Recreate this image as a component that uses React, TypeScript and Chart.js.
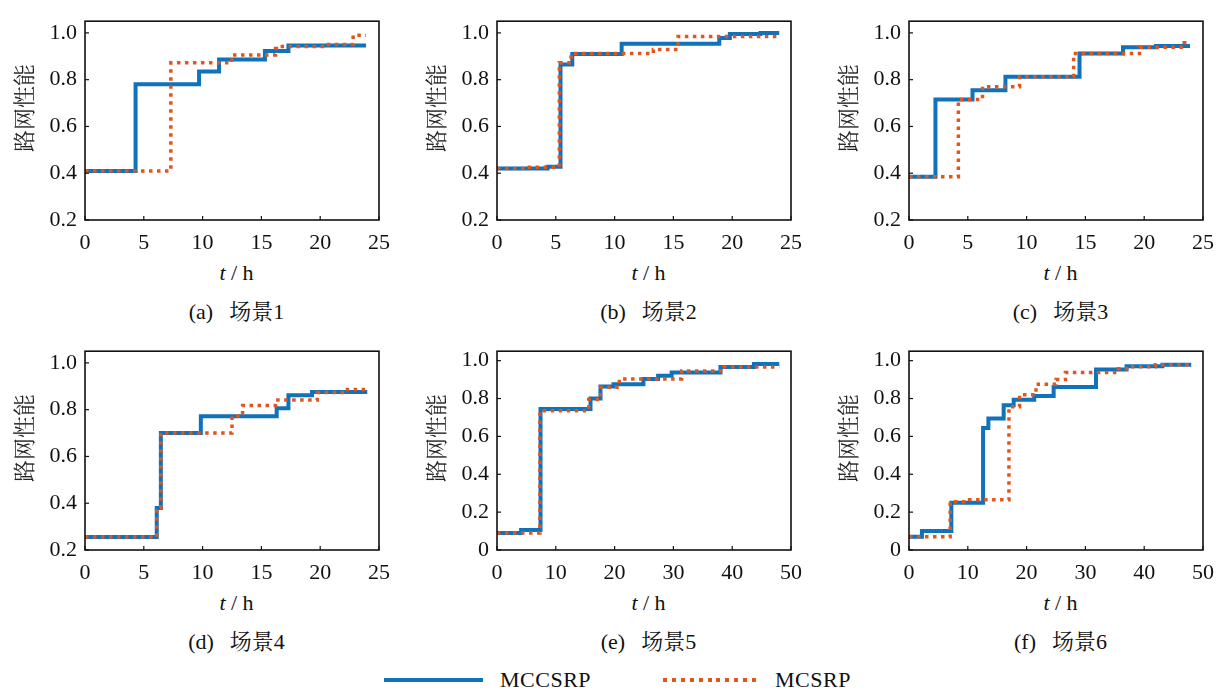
import React, { useEffect, useRef } from "react";
import { Chart, registerables } from "chart.js";

Chart.register(...registerables);

const BLUE = "#0F72BA";
const ORANGE = "#E0561E";
const SERIF = "'Liberation Serif', 'Times New Roman', serif";
const CJK = "'Liberation Serif', 'Noto Serif CJK SC', serif";

// ---- Data (t in hours, network performance) ----
// Scenario 1
const a_mccsrp_t = [0, 4.3, 9.7, 11.4, 15.3, 17.3, 23.9];
const a_mccsrp_v = [0.41, 0.78, 0.835, 0.886, 0.923, 0.946, 0.946];
const a_mcsrp_t = [0, 7.3, 12.5, 16.2, 16.6, 20.5, 22.8, 23.9];
const a_mcsrp_v = [0.41, 0.872, 0.906, 0.933, 0.942, 0.95, 0.99, 0.99];
// Scenario 2
const b_mccsrp_t = [0, 4.3, 5.4, 6.4, 10.6, 18.9, 19.8, 22.4, 24];
const b_mccsrp_v = [0.42, 0.428, 0.865, 0.91, 0.954, 0.978, 0.995, 1.0, 1.0];
const b_mcsrp_t = [0, 2.6, 5.3, 6.3, 13.3, 15.4, 24];
const b_mcsrp_v = [0.42, 0.426, 0.872, 0.912, 0.929, 0.985, 0.985];
// Scenario 3
const c_mccsrp_t = [0, 2.25, 5.4, 8.2, 14.5, 18.2, 21.0, 23.9];
const c_mccsrp_v = [0.385, 0.715, 0.755, 0.812, 0.912, 0.939, 0.944, 0.944];
const c_mcsrp_t = [0, 4.2, 6.25, 9.4, 14.0, 19.6, 23.4, 23.9];
const c_mcsrp_v = [0.385, 0.715, 0.77, 0.812, 0.912, 0.939, 0.958, 0.958];
// Scenario 4
const d_mccsrp_t = [0, 6.1, 6.45, 9.85, 16.3, 17.3, 19.3, 24];
const d_mccsrp_v = [0.256, 0.38, 0.7, 0.772, 0.806, 0.862, 0.876, 0.876];
const d_mcsrp_t = [0, 6.1, 6.45, 12.5, 13.4, 16.2, 19.75, 21.9, 24];
const d_mcsrp_v = [0.256, 0.38, 0.7, 0.773, 0.818, 0.841, 0.873, 0.886, 0.886];
// Scenario 5
const e_mccsrp_t = [0, 4.1, 7.4, 15.9, 17.6, 19.8, 24.9, 27.4, 29.7, 38.0, 43.7, 48];
const e_mccsrp_v = [0.09, 0.105, 0.745, 0.8, 0.864, 0.875, 0.903, 0.92, 0.937, 0.967, 0.982, 0.982];
const e_mcsrp_t = [0, 7.3, 15.6, 17.6, 20.8, 31.4, 38.5, 48];
const e_mcsrp_v = [0.09, 0.736, 0.795, 0.86, 0.903, 0.946, 0.967, 0.967];
// Scenario 6
const f_mccsrp_t = [0, 2.2, 7.2, 12.6, 13.5, 16.1, 17.8, 21.3, 24.6, 31.8, 37.0, 43.1, 48];
const f_mccsrp_v = [0.07, 0.1, 0.25, 0.645, 0.695, 0.764, 0.794, 0.814, 0.861, 0.953, 0.97, 0.978, 0.978];
const f_mcsrp_t = [0, 7.0, 10.3, 17.0, 18.8, 21.6, 25.0, 26.6, 35.6, 37.0, 41.9, 48];
const f_mcsrp_v = [0.07, 0.255, 0.265, 0.757, 0.82, 0.875, 0.9, 0.937, 0.957, 0.968, 0.978, 0.978];

const captionLetters = ["(a)", "(b)", "(c)", "(d)", "(e)", "(f)"];
const captionNames = ["场景1", "场景2", "场景3", "场景4", "场景5", "场景6"];
const xMaxes = [25, 25, 25, 25, 50, 50];
const xSteps = [5, 5, 5, 5, 10, 10];
const yMins = [0.2, 0.2, 0.2, 0.2, 0, 0];
const yMax = 1.05;
const seriesNames = ["MCCSRP", "MCSRP"];

const blueT = [a_mccsrp_t, b_mccsrp_t, c_mccsrp_t, d_mccsrp_t, e_mccsrp_t, f_mccsrp_t];
const blueV = [a_mccsrp_v, b_mccsrp_v, c_mccsrp_v, d_mccsrp_v, e_mccsrp_v, f_mccsrp_v];
const orangeT = [a_mcsrp_t, b_mcsrp_t, c_mcsrp_t, d_mcsrp_t, e_mcsrp_t, f_mcsrp_t];
const orangeV = [a_mcsrp_v, b_mcsrp_v, c_mcsrp_v, d_mcsrp_v, e_mcsrp_v, f_mcsrp_v];

// ---- Layout ----
const plotLefts = [85, 497, 909, 85, 497, 909];
const rowTops = [0, 0, 0, 330, 330, 330];
const padTops = [9, 10, 11, 8, 10, 11];
const PLOT_W = 303;
const Y_AXIS_W = 85;
const PAD_R = 12;
const CANVAS_H = 260;
const X_AXIS_H = 40;

const framePlugin = {
  id: "frameTicks",
  afterDatasetsDraw(chart: any) {
    const { ctx, chartArea: a, scales } = chart;
    ctx.save();
    ctx.strokeStyle = "#111";
    ctx.lineWidth = 1.6;
    ctx.strokeRect(a.left, a.top, a.right - a.left, a.bottom - a.top);
    ctx.lineWidth = 1.2;
    scales.x.ticks.forEach((t: any) => {
      const px = scales.x.getPixelForValue(t.value);
      ctx.beginPath();
      ctx.moveTo(px, a.bottom);
      ctx.lineTo(px, a.bottom - 4);
      ctx.stroke();
    });
    scales.y.ticks.forEach((t: any) => {
      const py = scales.y.getPixelForValue(t.value);
      ctx.beginPath();
      ctx.moveTo(a.left, py);
      ctx.lineTo(a.left + 4, py);
      ctx.stroke();
    });
    ctx.restore();
  },
};

function Panel({ i }: { i: number }) {
  const ref = useRef<HTMLCanvasElement>(null);
  useEffect(() => {
    const toPts = (ts: number[], vs: number[]) => ts.map((x, k) => ({ x, y: vs[k] }));
    const chart = new Chart(ref.current as HTMLCanvasElement, {
      type: "line",
      data: {
        datasets: [
          {
            label: seriesNames[1],
            data: toPts(orangeT[i], orangeV[i]),
            borderColor: ORANGE,
            borderWidth: 3.5,
            borderDash: [3.5, 4.5],
            borderCapStyle: "butt",
            stepped: true,
            pointRadius: 0,
            fill: false,
            order: 0,
          },
          {
            label: seriesNames[0],
            data: toPts(blueT[i], blueV[i]),
            borderColor: BLUE,
            borderWidth: 4,
            borderJoinStyle: "miter",
            stepped: true,
            pointRadius: 0,
            fill: false,
            order: 1,
          },
        ],
      } as any,
      options: {
        animation: false,
        responsive: false,
        maintainAspectRatio: false,
        devicePixelRatio: 1,
        layout: { padding: { top: padTops[i], right: PAD_R, left: 0, bottom: 0 } },
        plugins: { legend: { display: false }, tooltip: { enabled: false } },
        scales: {
          x: {
            type: "linear",
            min: 0,
            max: xMaxes[i],
            grid: { display: false, drawTicks: false, tickLength: 0 },
            border: { display: false },
            ticks: {
              stepSize: xSteps[i],
              color: "#111",
              padding: 10,
              maxRotation: 0,
              autoSkip: false,
              font: { family: SERIF, size: 22 },
            },
            afterFit: (s: any) => {
              s.height = X_AXIS_H;
            },
          },
          y: {
            type: "linear",
            min: yMins[i],
            max: yMax,
            grid: { display: false, drawTicks: false, tickLength: 0 },
            border: { display: false },
            ticks: {
              stepSize: 0.2,
              includeBounds: false,
              color: "#111",
              padding: 8,
              font: { family: SERIF, size: 22 },
              callback: (v: any) => (Math.abs(v) < 1e-9 ? "0" : Number(v).toFixed(1)),
            },
            afterFit: (s: any) => {
              s.width = Y_AXIS_W;
            },
          },
        },
      } as any,
      plugins: [framePlugin],
    });
    return () => chart.destroy();
  }, [i]);

  const cLeft = plotLefts[i] - Y_AXIS_W;
  const cW = Y_AXIS_W + PLOT_W + PAD_R;
  const plotCx = plotLefts[i] + PLOT_W / 2;
  const top = rowTops[i];
  return (
    <>
      <canvas
        ref={ref}
        width={cW}
        height={CANVAS_H}
        style={{ position: "absolute", left: cLeft, top, width: cW, height: CANVAS_H }}
      />
      <div
        style={{
          position: "absolute",
          left: plotLefts[i] - 62,
          top: top + 108,
          transform: "translate(-50%, -50%) rotate(-90deg)",
          fontFamily: "'Noto Serif CJK SC', 'Noto Sans CJK SC', serif",
          fontSize: 22,
          color: "#222",
          whiteSpace: "nowrap",
          lineHeight: 1,
        }}
      >
        路网性能
      </div>
      <div
        style={{
          position: "absolute",
          left: plotCx,
          top: top + 273,
          transform: "translate(-50%, -50%)",
          fontFamily: SERIF,
          fontSize: 22,
          color: "#111",
          whiteSpace: "pre",
          lineHeight: 1,
        }}
      >
        <i>t</i>
        {" / h"}
      </div>
      <div
        style={{
          position: "absolute",
          left: plotCx,
          top: top + 312,
          transform: "translate(-50%, -50%)",
          fontFamily: CJK,
          fontSize: 22,
          color: "#111",
          whiteSpace: "nowrap",
          lineHeight: 1,
        }}
      >
        <span>{captionLetters[i]}</span>
        <span style={{ marginLeft: 16 }}>{captionNames[i]}</span>
      </div>
    </>
  );
}

export default function App() {
  return (
    <div
      style={{
        position: "absolute",
        left: 0,
        top: 0,
        width: 1230,
        height: 691,
        background: "#fff",
        overflow: "hidden",
      }}
    >
      {[0, 1, 2, 3, 4, 5].map((i) => (
        <Panel key={i} i={i} />
      ))}
      {/* Legend */}
      <div style={{ position: "absolute", left: 384, top: 678, width: 99, height: 4, background: BLUE }} />
      <div
        style={{
          position: "absolute",
          left: 500,
          top: 680,
          transform: "translateY(-50%)",
          fontFamily: SERIF,
          fontSize: 22,
          letterSpacing: 0.5,
          color: "#111",
          lineHeight: 1,
        }}
      >
        {seriesNames[0]}
      </div>
      <div
        style={{
          position: "absolute",
          left: 663,
          top: 678,
          width: 98,
          height: 4,
          background: `repeating-linear-gradient(to right, ${ORANGE} 0px, ${ORANGE} 4px, transparent 4px, transparent 8.9px)`,
        }}
      />
      <div
        style={{
          position: "absolute",
          left: 775,
          top: 680,
          transform: "translateY(-50%)",
          fontFamily: SERIF,
          fontSize: 22,
          letterSpacing: 0.5,
          color: "#111",
          lineHeight: 1,
        }}
      >
        {seriesNames[1]}
      </div>
    </div>
  );
}
